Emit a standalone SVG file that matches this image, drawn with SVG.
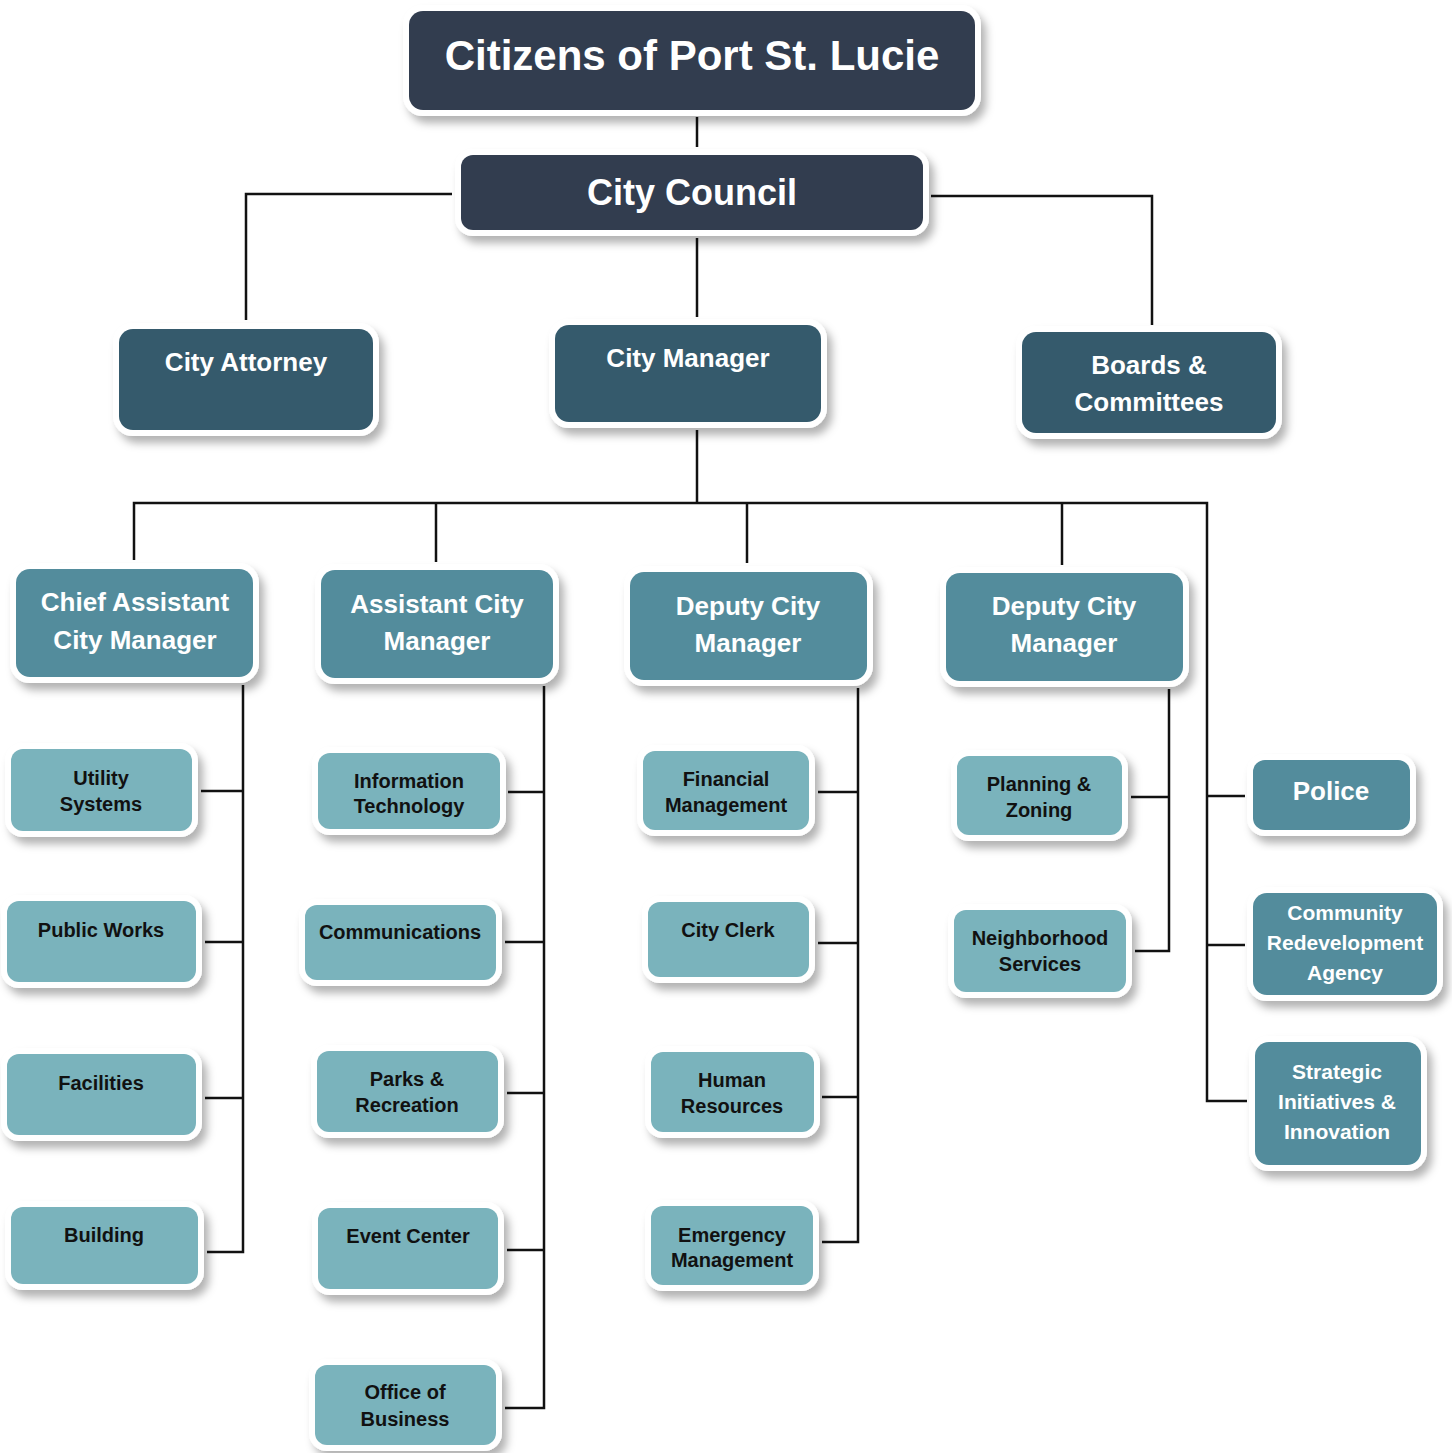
<svg xmlns="http://www.w3.org/2000/svg" width="1452" height="1453" viewBox="0 0 1452 1453">
<defs>
<filter id="sh" x="-10%" y="-10%" width="130%" height="140%">
<feDropShadow dx="5" dy="7" stdDeviation="4" flood-color="#000" flood-opacity="0.3"/>
</filter>
<style>
rect{stroke:#fff;stroke-width:12;paint-order:stroke;filter:url(#sh)}
.top rect{fill:#333e50}
.mid rect{fill:#345a6c}
.dep rect{fill:#528c9c}
.blue rect{fill:#528c9c}
.leaf rect{fill:#7ab3bc}
text{font-family:"Liberation Sans",Arial,sans-serif;font-weight:bold;text-anchor:middle}
.top text,.mid text,.dep text,.blue text{fill:#fff}
.leaf text{fill:#111;font-size:20px}
.mid text,.dep text{font-size:26px}
#connectors{stroke:#111;stroke-width:2.5;fill:none}
</style>
</defs>
<rect x="0" y="0" width="1452" height="1453" style="fill:#fff;stroke:none;filter:none"/>
<g id="connectors">
<path d="M697 117V147"/>
<path d="M452 194H246V320"/>
<path d="M931 196H1152V325"/>
<path d="M697 238V317"/>
<path d="M697 430V503"/>
<path d="M134 560V503H1207V1101H1247"/>
<path d="M436 503V562"/>
<path d="M747 503V563"/>
<path d="M1062 503V565"/>
<path d="M243 685V1252H207"/>
<path d="M201 791H243M205 942H243M205 1098H243"/>
<path d="M544 686V1408H505"/>
<path d="M508 792H544M505 942H544M507 1093H544M507 1250H544"/>
<path d="M858 688V1242H822"/>
<path d="M818 792H858M818 943H858M822 1097H858"/>
<path d="M1169 689V951H1135"/>
<path d="M1131 797H1169"/>
<path d="M1207 796H1245M1207 945H1245"/>
</g>
<g id="citizens" class="top"><rect x="409" y="11" width="566" height="99" rx="14"/><text x="692" y="70" font-size="42">Citizens of Port St. Lucie</text></g>
<g id="council" class="top"><rect x="461" y="155" width="462" height="75" rx="12"/><text x="692" y="205" font-size="36">City Council</text></g>
<g id="attorney" class="mid"><rect x="119" y="329" width="254" height="101" rx="14"/><text x="246" y="371">City Attorney</text></g>
<g id="manager" class="mid"><rect x="555" y="325" width="266" height="97" rx="14"/><text x="688" y="367">City Manager</text></g>
<g id="boards" class="mid"><rect x="1022" y="332" width="254" height="101" rx="14"/><text x="1149" y="374">Boards &amp;</text><text x="1149" y="411">Committees</text></g>
<g id="chief" class="dep"><rect x="16" y="569" width="237" height="108" rx="14"/><text x="135" y="611">Chief Assistant</text><text x="135" y="649">City Manager</text></g>
<g id="acm" class="dep"><rect x="321" y="570" width="232" height="108" rx="14"/><text x="437" y="613">Assistant City</text><text x="437" y="650">Manager</text></g>
<g id="dcm1" class="dep"><rect x="630" y="572" width="237" height="108" rx="14"/><text x="748" y="615">Deputy City</text><text x="748" y="652">Manager</text></g>
<g id="dcm2" class="dep"><rect x="946" y="573" width="237" height="108" rx="14"/><text x="1064" y="615">Deputy City</text><text x="1064" y="652">Manager</text></g>
<g id="utility" class="leaf"><rect x="11" y="749" width="181" height="82" rx="12"/><text x="101" y="785">Utility</text><text x="101" y="811">Systems</text></g>
<g id="publicworks" class="leaf"><rect x="7" y="901" width="189" height="81" rx="12"/><text x="101" y="937">Public Works</text></g>
<g id="facilities" class="leaf"><rect x="7" y="1054" width="189" height="81" rx="12"/><text x="101" y="1090">Facilities</text></g>
<g id="building" class="leaf"><rect x="11" y="1207" width="187" height="77" rx="12"/><text x="104" y="1242">Building</text></g>
<g id="it" class="leaf"><rect x="318" y="753" width="182" height="76" rx="12"/><text x="409" y="788">Information</text><text x="409" y="813">Technology</text></g>
<g id="communications" class="leaf"><rect x="305" y="905" width="191" height="75" rx="12"/><text x="400" y="939">Communications</text></g>
<g id="parks" class="leaf"><rect x="317" y="1051" width="181" height="81" rx="12"/><text x="407" y="1086">Parks &amp;</text><text x="407" y="1112">Recreation</text></g>
<g id="eventcenter" class="leaf"><rect x="318" y="1208" width="180" height="81" rx="12"/><text x="408" y="1243">Event Center</text></g>
<g id="officebusiness" class="leaf"><rect x="315" y="1365" width="181" height="80" rx="12"/><text x="405" y="1399">Office of</text><text x="405" y="1426">Business</text></g>
<g id="financial" class="leaf"><rect x="643" y="751" width="166" height="79" rx="12"/><text x="726" y="786">Financial</text><text x="726" y="812">Management</text></g>
<g id="cityclerk" class="leaf"><rect x="648" y="902" width="161" height="75" rx="12"/><text x="728" y="937">City Clerk</text></g>
<g id="hr" class="leaf"><rect x="651" y="1052" width="163" height="80" rx="12"/><text x="732" y="1087">Human</text><text x="732" y="1113">Resources</text></g>
<g id="emergency" class="leaf"><rect x="651" y="1206" width="162" height="79" rx="12"/><text x="732" y="1242">Emergency</text><text x="732" y="1267">Management</text></g>
<g id="planning" class="leaf"><rect x="957" y="756" width="165" height="79" rx="12"/><text x="1039" y="791">Planning &amp;</text><text x="1039" y="817">Zoning</text></g>
<g id="neighborhood" class="leaf"><rect x="954" y="910" width="172" height="82" rx="12"/><text x="1040" y="945">Neighborhood</text><text x="1040" y="971">Services</text></g>
<g id="police" class="blue"><rect x="1253" y="760" width="157" height="70" rx="12"/><text x="1331" y="800" font-size="26">Police</text></g>
<g id="cra" class="blue"><rect x="1253" y="893" width="184" height="102" rx="14"/><text x="1345" y="920" font-size="21">Community</text><text x="1345" y="950" font-size="21">Redevelopment</text><text x="1345" y="980" font-size="21">Agency</text></g>
<g id="strategic" class="blue"><rect x="1255" y="1042" width="166" height="123" rx="14"/><text x="1337" y="1079" font-size="21">Strategic</text><text x="1337" y="1109" font-size="21">Initiatives &amp;</text><text x="1337" y="1139" font-size="21">Innovation</text></g>
</svg>
